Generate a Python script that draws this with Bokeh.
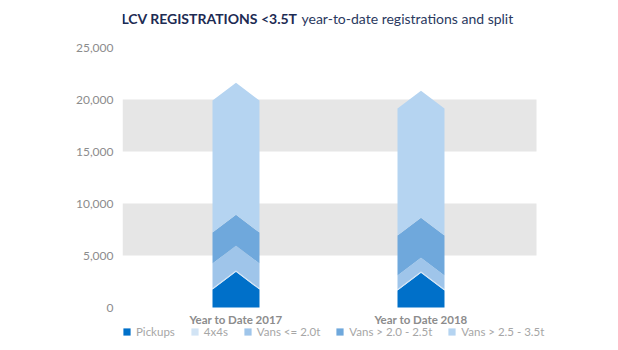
from bokeh.plotting import figure
from bokeh.models import (Range1d, BoxAnnotation, Label, LabelSet, Legend, LegendItem,
                          FixedTicker, NumeralTickFormatter, ColumnDataSource)
from bokeh.core.properties import value
from bokeh.embed import file_html
from bokeh.resources import INLINE

# ---------------- data ----------------
periods = ["Year to Date 2017", "Year to Date 2018"]
series_names = ["Pickups", "4x4s", "Vans <= 2.0t", "Vans > 2.0 - 2.5t", "Vans > 2.5 - 3.5t"]
pickups = [1730, 1630]
four_by_fours = [120, 120]
vans_upto_2 = [2380, 1330]
vans_2_to_25 = [2980, 3840]
vans_25_to_35 = [12690, 12210]
y_ticks = [0, 5000, 10000, 15000, 20000, 25000]
title_bold = "LCV REGISTRATIONS <3.5T"
title_rest = "year-to-date registrations and split"

series_values = [pickups, four_by_fours, vans_upto_2, vans_2_to_25, vans_25_to_35]
colors = ["#0070c9", "#d2e4f5", "#9fc5ea", "#6fa8dc", "#b5d4f1"]

# ---------------- layout / style ----------------
W, H = 618, 350
FONT = "Lato"
LEFT = 122            # px: left edge of plotting area
PLOT_RIGHT = 536      # px: right edge of grey bands
PLOT_TOP = 47         # px: where the top tick sits
PLOT_BOTTOM = 307     # px: where the zero tick sits
X_START = 0.3865      # x value at the left edge of the plotting area
PX_PER_X = 185.0
BAR_HALF = 0.127      # half bar width in x units
CHEVRON = 1700        # chevron rise in y units

px_per_y = (PLOT_BOTTOM - PLOT_TOP) / (y_ticks[-1] - y_ticks[0])
x_end = X_START + (W - LEFT) / PX_PER_X
band_right = X_START + (PLOT_RIGHT - LEFT) / PX_PER_X
y_start = y_ticks[0] - (H - PLOT_BOTTOM) / px_per_y
y_end = y_ticks[-1] + PLOT_TOP / px_per_y

x_pos = [i + 1 for i in range(len(periods))]

p = figure(width=W, height=H,
           x_range=Range1d(X_START, x_end), y_range=Range1d(y_start, y_end),
           output_backend="svg", toolbar_location=None, x_axis_location=None,
           min_border_left=LEFT, min_border_right=0,
           min_border_top=0, min_border_bottom=0)
p.title = None
p.outline_line_color = None
p.background_fill_color = "white"
p.border_fill_color = "white"
p.grid.visible = False

# alternating grey bands
for lo, hi in [(y_ticks[1], y_ticks[2]), (y_ticks[3], y_ticks[4])]:
    p.add_layout(BoxAnnotation(left=X_START, right=band_right, bottom=lo, top=hi,
                               fill_color="#e6e6e6", fill_alpha=1.0,
                               line_color=None, level="underlay"))

# stacked chevron segments
renderers = []
cum = [0.0] * len(periods)
for si, (name, vals) in enumerate(zip(series_names, series_values)):
    xs_all, ys_all = [], []
    for j, xc in enumerate(x_pos):
        base = cum[j]
        top = base + vals[j]
        xl, xr = xc - BAR_HALF, xc + BAR_HALF
        if si == 0:
            xs = [xl, xr, xr, xc, xl]
            ys = [base, base, top, top + CHEVRON, top]
        else:
            xs = [xl, xc, xr, xr, xc, xl]
            ys = [base, base + CHEVRON, base, top, top + CHEVRON, top]
        xs_all.append(xs)
        ys_all.append(ys)
        cum[j] = top
    src = ColumnDataSource(dict(xs=xs_all, ys=ys_all))
    r = p.patches("xs", "ys", source=src, fill_color=colors[si], line_color=None)
    renderers.append(r)

# y axis
ax = p.yaxis
ax.axis_line_color = None
ax.major_tick_line_color = None
ax.minor_tick_line_color = None
ax.major_tick_out = 0
ax.major_tick_in = 0
ax.minor_tick_out = 0
ax.ticker = FixedTicker(ticks=y_ticks)
ax.formatter = NumeralTickFormatter(format="0,0")
ax.major_label_text_font = FONT
ax.major_label_text_color = "#8c8c8c"
ax.major_label_text_font_size = "12px"
ax.major_label_standoff = 9

# category labels under the bars
cat_src = ColumnDataSource(dict(x=x_pos, label=periods))
p.add_layout(LabelSet(x="x", y=H - 319, y_units="screen", text="label", source=cat_src,
                      text_align="center", text_baseline="middle",
                      text_font=value(FONT), text_font_style=value("bold"),
                      text_font_size=value("11.5px"), text_color=value("#8c8c8c")))

# title (two weights)
p.add_layout(Label(x=297 - LEFT, y=H - 17.5, x_units="screen", y_units="screen",
                   text=title_bold, text_align="right", text_baseline="middle",
                   text_font=FONT, text_font_style="bold", text_font_size="14px",
                   text_color="#1d2b53"))
p.add_layout(Label(x=301 - LEFT, y=H - 17.5, x_units="screen", y_units="screen",
                   text=title_rest, text_align="left", text_baseline="middle",
                   text_font=FONT, text_font_size="14px", text_color="#2a3960"))

# legend
legend = Legend(items=[LegendItem(label=n, renderers=[r]) for n, r in zip(series_names, renderers)],
                orientation="horizontal", location=(0, H - 338),
                glyph_width=9, glyph_height=9, label_height=9, label_standoff=5,
                spacing=15, padding=0, margin=0,
                label_text_font=FONT, label_text_font_size="11.5px",
                label_text_color="#a6a6a6",
                border_line_color=None, background_fill_alpha=0)
p.add_layout(legend, "center")

open("out.html", "w").write(file_html(p, INLINE))
